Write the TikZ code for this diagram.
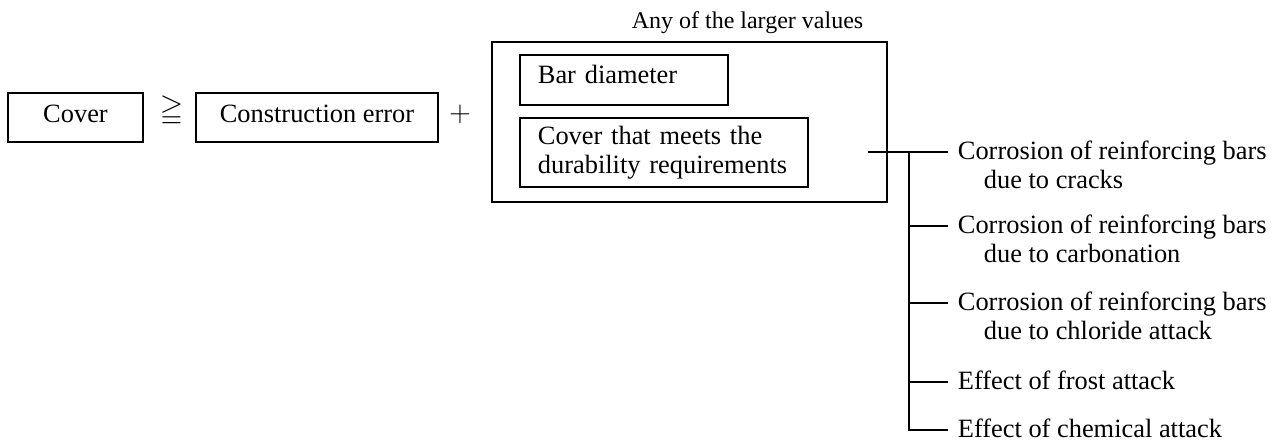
\documentclass[tikz,border=0pt]{standalone}
\usepackage{fontspec}
\setmainfont{Liberation Serif}
\usepackage{amssymb}

\tikzset{
    box/.style={draw, line width=.9pt, inner sep=0pt},
    cause/.style={anchor=north west, align=left, inner xsep=4.5pt, inner ysep=0pt, yshift=6pt},
}

\begin{document}
\begin{tikzpicture}[x=.5pt, y=-.5pt, line width=.9pt, font=\fontsize{13.2}{14.5}\selectfont]
    \useasboundingbox (0,0) rectangle (1279,441);

    \path (75.5,117.5) node[box, minimum width=67.5pt, minimum height=24.5pt, text height=9pt, text depth=4.5pt] (cover) {Cover};
    \path (171.5,111) node[font=\fontsize{15}{15}\selectfont] (geq) {$\geqq$};
    \path (317,117.5) node[box, minimum width=121pt, minimum height=24.5pt, text height=9pt, text depth=4.5pt] (error) {Construction error};
    \path (460,114) node[font=\fontsize{15.5}{15}\selectfont] (plus) {$+$};

    \path (689.5,122) node[box, minimum width=197.5pt, minimum height=80pt] (larger) {};
    \path (747.5,28) node[anchor=base, font=\fontsize{12}{14}\selectfont] (anylabel) {Any of the larger values};
    \path (519,80) node[box, anchor=west, align=left, text width=86pt, inner xsep=9pt, minimum height=25pt, text height=9pt, text depth=6pt] (bar) {Bar diameter};
    \path (519,152.5) node[box, anchor=west, align=left, text width=126pt, inner xsep=9pt, minimum height=34.5pt] (durable) {Cover that meets the\\durability requirements};

    \coordinate (tap) at (868,152);
    \coordinate (trunk) at (909,152);
    \coordinate (b1) at (948,152);
    \coordinate (b2) at (948,226);
    \coordinate (b3) at (948,303);
    \coordinate (b4) at (948,382);
    \coordinate (b5) at (948,430);

    \path (b1) node[cause] (c1) {Corrosion of reinforcing bars\\\hspace*{13pt}due to cracks};
    \path (b2) node[cause] (c2) {Corrosion of reinforcing bars\\\hspace*{13pt}due to carbonation};
    \path (b3) node[cause] (c3) {Corrosion of reinforcing bars\\\hspace*{13pt}due to chloride attack};
    \path (b4) node[cause] (c4) {Effect of frost attack};
    \path (b5) node[cause] (c5) {Effect of chemical attack};

    \draw (tap) -- (c1.west |- b1);
    \draw (trunk) |- (c5.west |- b5);
    \foreach \n in {2,3,4}
        \draw (trunk |- b\n) -- (c\n.west |- b\n);
\end{tikzpicture}
\end{document}
